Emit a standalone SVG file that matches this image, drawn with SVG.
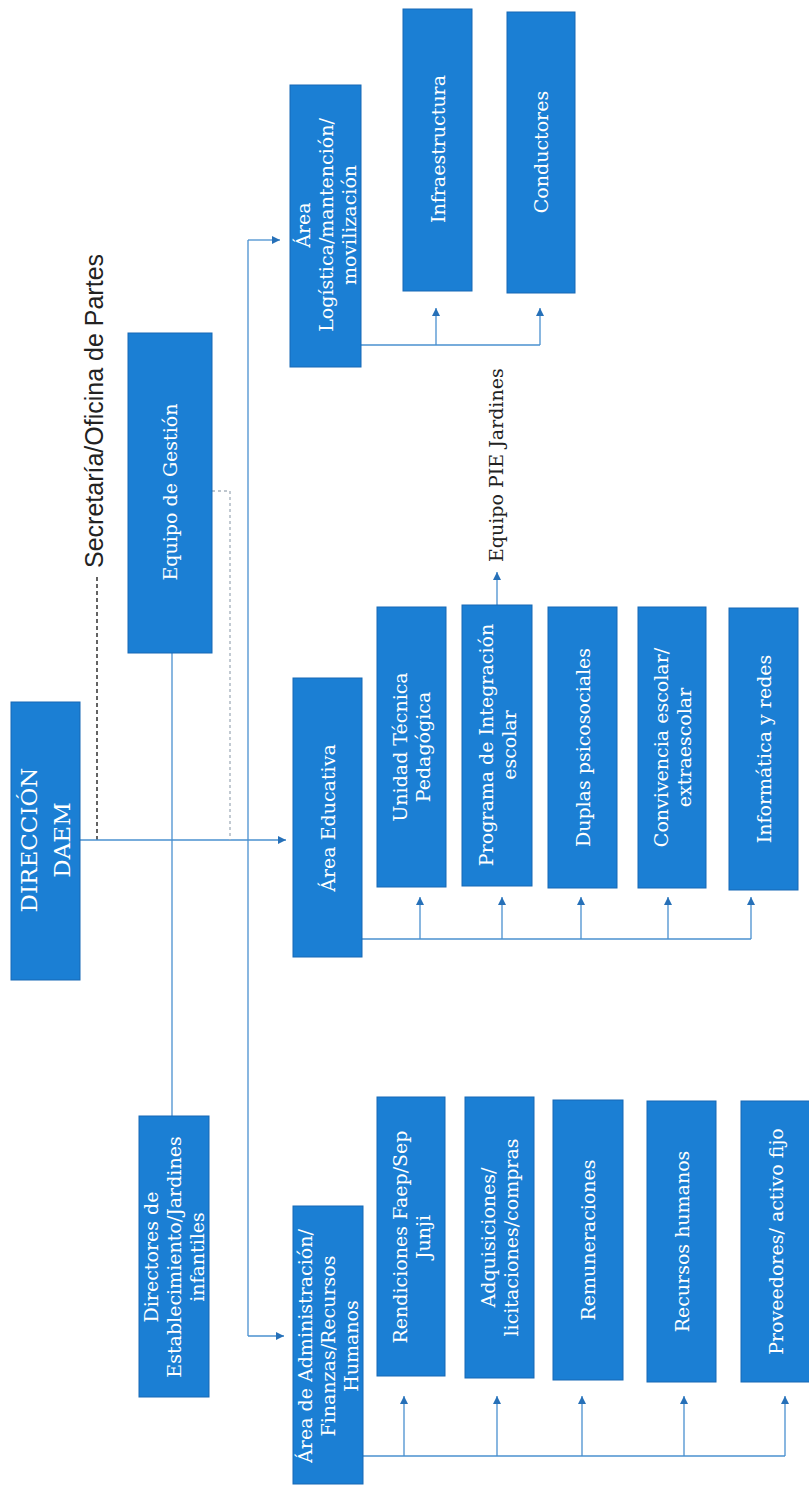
<svg xmlns="http://www.w3.org/2000/svg" width="809" height="1494" viewBox="0 0 809 1494">
<style>
.box{fill:#1b7fd4;stroke:#1769b5;stroke-width:1}
.bt{fill:#ffffff;font-family:"DejaVu Serif","Liberation Serif",serif;font-size:19px;text-anchor:middle}
.big{font-size:23px}
.ln{fill:none;stroke:#4a90cf;stroke-width:1.3}
.dash{fill:none;stroke:#222;stroke-width:1.4;stroke-dasharray:4,3}
.dot{fill:none;stroke:#a9b4bf;stroke-width:1.4;stroke-dasharray:3,3}
.lbl{fill:#222;font-family:"DejaVu Serif","Liberation Serif",serif;font-size:19px}
.sec{fill:#222;font-family:"Liberation Sans",Arial,sans-serif;font-size:25px}
</style>
<defs>
<marker id="ah" viewBox="0 0 10 10" refX="10" refY="5" markerWidth="9" markerHeight="8" markerUnits="userSpaceOnUse" orient="auto">
<path d="M0,0 L10,5 L0,10 z" fill="#2670b8"/>
</marker>
</defs>

<g id="connectors">
<line class="dash" x1="97" y1="577" x2="97" y2="840"/>
<line class="ln" x1="80" y1="840" x2="286" y2="840" marker-end="url(#ah)"/>
<line class="ln" x1="172" y1="653" x2="172" y2="1116"/>
<polyline class="dot" points="212,491 230,491 230,840"/>
<line class="ln" x1="248" y1="240" x2="248" y2="1336"/>
<line class="ln" x1="248" y1="240" x2="280" y2="240" marker-end="url(#ah)"/>
<line class="ln" x1="248" y1="1336" x2="284" y2="1336" marker-end="url(#ah)"/>
<!-- Logistica -->
<polyline class="ln" points="361,345 540,345"/>
<line class="ln" x1="436" y1="345" x2="436" y2="308" marker-end="url(#ah)"/>
<line class="ln" x1="540" y1="345" x2="540" y2="308" marker-end="url(#ah)"/>
<!-- Educativa -->
<polyline class="ln" points="362,939 751,939"/>
<line class="ln" x1="420" y1="939" x2="420" y2="897" marker-end="url(#ah)"/>
<line class="ln" x1="502" y1="939" x2="502" y2="897" marker-end="url(#ah)"/>
<line class="ln" x1="581" y1="939" x2="581" y2="897" marker-end="url(#ah)"/>
<line class="ln" x1="668" y1="939" x2="668" y2="897" marker-end="url(#ah)"/>
<line class="ln" x1="751" y1="939" x2="751" y2="897" marker-end="url(#ah)"/>
<line class="ln" x1="497" y1="605" x2="497" y2="572" marker-end="url(#ah)"/>
<!-- Admin -->
<polyline class="ln" points="363,1456 785,1456"/>
<line class="ln" x1="404" y1="1456" x2="404" y2="1396" marker-end="url(#ah)"/>
<line class="ln" x1="497" y1="1456" x2="497" y2="1396" marker-end="url(#ah)"/>
<line class="ln" x1="582" y1="1456" x2="582" y2="1396" marker-end="url(#ah)"/>
<line class="ln" x1="684" y1="1456" x2="684" y2="1396" marker-end="url(#ah)"/>
<line class="ln" x1="785" y1="1456" x2="785" y2="1396" marker-end="url(#ah)"/>
</g>

<g id="secretaria">
<text class="sec" transform="translate(103,568) rotate(-90)">Secretaría/Oficina de Partes</text>
</g>
<g id="pie">
<text class="lbl" transform="translate(503,562) rotate(-90)">Equipo PIE Jardines</text>
</g>

<g id="direccion">
<rect class="box" x="11" y="702" width="69" height="278"/>
<text class="bt big" transform="translate(45.5,840) rotate(-90)"><tspan x="0" y="-8.5">DIRECCIÓN</tspan><tspan x="0" y="24.5">DAEM</tspan></text>
</g>
<g id="gestion">
<rect class="box" x="128" y="333" width="84" height="320"/>
<text class="bt" transform="translate(170,492) rotate(-90)"><tspan x="0" y="7">Equipo de Gestión</tspan></text>
</g>
<g id="directores">
<rect class="box" x="139" y="1116" width="70" height="281"/>
<text class="bt" transform="translate(174,1257) rotate(-90)"><tspan x="0" y="-16">Directores de</tspan><tspan x="0" y="7">Establecimiento/Jardines</tspan><tspan x="0" y="30">infantiles</tspan></text>
</g>
<g id="logistica">
<rect class="box" x="290" y="85" width="71" height="282"/>
<text class="bt" transform="translate(325.5,225) rotate(-90)"><tspan x="0" y="-16">Área</tspan><tspan x="0" y="7">Logística/mantención/</tspan><tspan x="0" y="30">movilización</tspan></text>
</g>
<g id="infraestructura">
<rect class="box" x="403" y="9" width="69" height="282"/>
<text class="bt" transform="translate(437.5,149) rotate(-90)"><tspan x="0" y="7">Infraestructura</tspan></text>
</g>
<g id="conductores">
<rect class="box" x="507" y="12" width="68" height="281"/>
<text class="bt" transform="translate(541,152) rotate(-90)"><tspan x="0" y="7">Conductores</tspan></text>
</g>
<g id="educativa">
<rect class="box" x="293" y="678" width="69" height="279"/>
<text class="bt" transform="translate(327.5,818) rotate(-90)"><tspan x="0" y="7">Área Educativa</tspan></text>
</g>
<g id="utp">
<rect class="box" x="377" y="607" width="69" height="280"/>
<text class="bt" transform="translate(411.5,747) rotate(-90)"><tspan x="0" y="-4.5">Unidad Técnica</tspan><tspan x="0" y="18.5">Pedagógica</tspan></text>
</g>
<g id="pie-escolar">
<rect class="box" x="462" y="605" width="70" height="281"/>
<text class="bt" transform="translate(497,745) rotate(-90)"><tspan x="0" y="-4.5">Programa de Integración</tspan><tspan x="0" y="18.5">escolar</tspan></text>
</g>
<g id="duplas">
<rect class="box" x="548" y="607" width="69" height="281"/>
<text class="bt" transform="translate(582.5,747.5) rotate(-90)"><tspan x="0" y="7">Duplas psicosociales</tspan></text>
</g>
<g id="convivencia">
<rect class="box" x="638" y="607" width="68" height="281"/>
<text class="bt" transform="translate(672,747.5) rotate(-90)"><tspan x="0" y="-4.5">Convivencia escolar/</tspan><tspan x="0" y="18.5">extraescolar</tspan></text>
</g>
<g id="informatica">
<rect class="box" x="729" y="608" width="69" height="282"/>
<text class="bt" transform="translate(763.5,749) rotate(-90)"><tspan x="0" y="7">Informática y redes</tspan></text>
</g>
<g id="admin">
<rect class="box" x="293" y="1206" width="70" height="278"/>
<text class="bt" transform="translate(328,1346) rotate(-90)"><tspan x="0" y="-16">Área de Administración/</tspan><tspan x="0" y="7">Finanzas/Recursos</tspan><tspan x="0" y="30">Humanos</tspan></text>
</g>
<g id="rendiciones">
<rect class="box" x="377" y="1097" width="68" height="279"/>
<text class="bt" transform="translate(411,1237) rotate(-90)"><tspan x="0" y="-4.5">Rendiciones Faep/Sep</tspan><tspan x="0" y="18.5">Junji</tspan></text>
</g>
<g id="adquisiciones">
<rect class="box" x="465" y="1097" width="69" height="281"/>
<text class="bt" transform="translate(499.5,1237.5) rotate(-90)"><tspan x="0" y="-4.5">Adquisiciones/</tspan><tspan x="0" y="18.5">licitaciones/compras</tspan></text>
</g>
<g id="remuneraciones">
<rect class="box" x="553" y="1100" width="70" height="280"/>
<text class="bt" transform="translate(588,1240) rotate(-90)"><tspan x="0" y="7">Remuneraciones</tspan></text>
</g>
<g id="rrhh">
<rect class="box" x="647" y="1101" width="69" height="281"/>
<text class="bt" transform="translate(681.5,1241.5) rotate(-90)"><tspan x="0" y="7">Recursos humanos</tspan></text>
</g>
<g id="proveedores">
<rect class="box" x="741" y="1101" width="72" height="281"/>
<text class="bt" transform="translate(776,1241.5) rotate(-90)"><tspan x="0" y="7">Proveedores/ activo fijo</tspan></text>
</g>
</svg>
